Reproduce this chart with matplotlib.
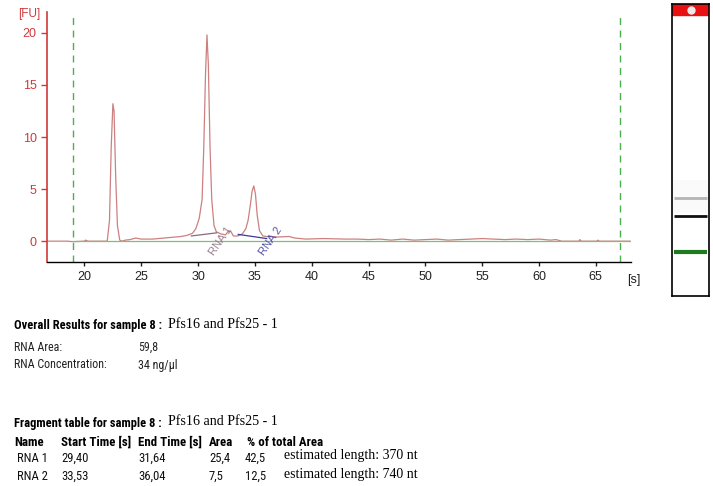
import numpy as np
import matplotlib
matplotlib.use("Agg")
import matplotlib.pyplot as plt
from matplotlib import font_manager

# electropherogram trace (time [s], fluorescence [FU])
trace_t = [16.7, 18.5, 19.0, 20.0, 20.1, 20.3, 21.5, 22.0, 22.2, 22.35, 22.5, 22.6,
           22.75, 22.9, 23.1, 23.3, 23.6, 24.0, 24.5, 25.0, 26.0, 27.0, 27.5, 28.0,
           28.5, 29.0, 29.5, 29.8, 30.1, 30.35, 30.5, 30.65, 30.78, 30.9, 31.05, 31.2,
           31.4, 31.6, 31.8, 32.0, 32.4, 32.7, 32.9, 33.1, 33.5, 33.9, 34.2, 34.4,
           34.6, 34.75, 34.9, 35.05, 35.2, 35.4, 35.7, 36.0, 37.0, 38.0, 38.5, 39.5,
           41.0, 43.0, 44.0, 45.0, 46.0, 47.0, 48.0, 49.0, 50.0, 51.0, 52.0, 53.0,
           54.0, 55.0, 56.0, 57.0, 58.0, 59.0, 60.0, 61.0, 61.5, 62.0, 63.5, 63.6,
           63.7, 65.1, 65.2, 65.3, 68.0]
trace_fu = [0.0, 0.0, -0.05, 0.0, 0.1, 0.0, 0.0, 0.0, 2.0, 9.0, 13.2, 12.5,
            6.0, 1.5, 0.1, 0.0, 0.1, 0.15, 0.3, 0.2, 0.2, 0.3, 0.35, 0.4,
            0.45, 0.55, 0.75, 1.2, 2.2, 4.0, 9.0, 16.0, 19.8, 17.0, 9.0, 4.0,
            1.5, 0.9, 0.8, 0.7, 0.6, 1.0, 0.9, 0.5, 0.5, 0.7, 1.2, 2.0,
            3.5, 4.8, 5.3, 4.5, 2.5, 1.0, 0.5, 0.45, 0.4, 0.45, 0.3, 0.2,
            0.25, 0.2, 0.2, 0.15, 0.2, 0.1, 0.2, 0.1, 0.15, 0.2, 0.1, 0.15,
            0.2, 0.25, 0.2, 0.15, 0.2, 0.15, 0.2, 0.1, 0.15, 0.0, 0.0, 0.15,
            0.0, 0.0, 0.1, 0.0, 0.0]

# fragments
frag_names = ["RNA 1", "RNA 2"]
frag_start = [29.40, 33.53]
frag_end = [31.64, 36.04]
frag_base_start = [0.5, 0.65]
frag_base_end = [0.8, 0.25]
frag_area = ["25,4", "7,5"]
frag_pct = ["42,5", "12,5"]
frag_len = [370, 740]
sample_name = "Pfs16 and Pfs25 - 1"
rna_area = "59,8"
rna_conc = "34 ng/\u00b5l"

# gel lane bands (time [s], colour, width)
band_t = [22.5, 30.8, 34.9]
band_col = ["#1e7a1e", "#101010", "#b4b4b4"]
band_lw = [3.0, 2.0, 2.0]

W, H = 713, 486
fig = plt.figure(figsize=(W / 100, H / 100), dpi=100)
red = "#d03a3a"
tick_font = ["Liberation Sans", "DejaVu Sans"]

ax = fig.add_axes([47 / W, 1 - 262 / H, 584 / W, 250 / H])
ax.plot(trace_t, trace_fu, color="#cc8080", lw=0.9)
ax.plot([19.0, 68.1], [0, 0], color="#7cbf7c", lw=0.9)
ax.axvline(19.0, color="#4caf50", ls=(0, (5, 4)), lw=1.0)
ax.axvline(67.1, color="#4caf50", ls=(0, (5, 4)), lw=1.0)
cols = ["#8a6a7a", "#3a3a9a"]
for i in range(2):
    ax.plot([frag_start[i], frag_end[i]], [frag_base_start[i], frag_base_end[i]],
            color=cols[i], lw=0.9)
    ax.text(frag_end[i] - 0.85, -1.5, frag_names[i], rotation=55, color=cols[i],
            fontsize=8, alpha=0.85, ha="left", va="bottom", family=tick_font)

ax.set_xlim(16.7, 68.1)
ax.set_ylim(-2.0, 22.0)
ax.set_xticks(np.arange(20, 70, 5))
ax.set_yticks([0, 5, 10, 15, 20])
ax.spines["top"].set_visible(False)
ax.spines["right"].set_visible(False)
ax.spines["left"].set_color(red)
ax.spines["left"].set_linewidth(1.2)
ax.spines["bottom"].set_linewidth(1.0)
ax.tick_params(axis="y", colors=red, labelsize=9, length=4, width=1)
ax.tick_params(axis="x", colors="#222222", labelsize=9, length=3, width=1)
for lab in ax.get_xticklabels() + ax.get_yticklabels():
    lab.set_family(tick_font)
ax.text(-0.012, 0.99, "[FU]", color=red, fontsize=8.5, transform=ax.transAxes,
        ha="right", va="center", family=tick_font)
ax.text(0.993, -0.072, "[s]", color="#222222", fontsize=9, transform=ax.transAxes,
        ha="left", va="center", family=tick_font)

# gel lane
gax = fig.add_axes([672 / W, 1 - 296 / H, 37 / W, 292 / H])
gax.set_xlim(0, 1)
gax.set_ylim(12.4, 79.5)
gax.set_xticks([])
gax.set_yticks([])
for s in gax.spines.values():
    s.set_color("black")
    s.set_linewidth(1.2)
gax.axhspan(77.0, 79.5, color="#e81010")
gax.plot(0.5, 78.2, "o", color="#f0e8e8", ms=5)
gax.axhspan(31.5, 39.0, color="#fafafa", lw=0)
for t, c, w in zip(band_t, band_col, band_lw):
    gax.plot([0.05, 0.95], [t, t], color=c, lw=w, solid_capstyle="butt")

# fonts: prefer a narrow sans if one is installed
names = {f.name for f in font_manager.fontManager.ttflist}
narrow = [n for n in ["Liberation Sans Narrow", "Roboto Condensed", "Noto Sans Condensed",
                      "DejaVu Sans Condensed", "Open Sans Condensed"] if n in names]
sans = narrow + ["Liberation Sans", "DejaVu Sans"]
serif = ["Liberation Serif", "DejaVu Serif"]

renderer = fig.canvas.get_renderer()


def put(x, y, s, **kw):
    return fig.text(x / W, 1 - y / H, s, va="center", ha="left", **kw)


def fit(t, width, grow=1.0):
    # scale font so the text spans about the width seen in the report
    w = t.get_window_extent(renderer).width
    size = t.get_fontsize() * width / w * grow
    t.set_fontsize(size)
    return size


def right_end(t):
    return t.get_window_extent(renderer).x1


sm = dict(family=sans, color="#222222")
t = put(14, 325, "Overall Results for sample 8 :", family=sans, fontsize=10, weight="bold")
bold_size = fit(t, 123, 1.2)
t_s = put(right_end(t) + 6, 324, sample_name, family=serif, fontsize=12)
serif_size = fit(t_s, 98, 1.12)
t = put(14, 347, "RNA Area:", fontsize=8.5, **sm)
t2 = put(14, 365, "RNA Concentration:", fontsize=8.5, **sm)
small_size = fit(t2, 71, 1.3)
t.set_fontsize(small_size)
put(138, 347, rna_area, fontsize=small_size, **sm)
put(138, 365, rna_conc, fontsize=small_size, **sm)

t = put(14, 423, "Fragment table for sample 8 :", family=sans, fontsize=bold_size, weight="bold")
put(right_end(t) + 6, 421, sample_name, family=serif, fontsize=serif_size)

heads = ["Name", "Start Time [s]", "End Time [s]", "Area", "% of total Area"]
head_x = [14, 61, 138, 209, 247]
ht = [put(x, 442, h, family=sans, fontsize=9, weight="bold") for h, x in zip(heads, head_x)]
head_size = fit(ht[1], 56, 1.25)
for h in ht:
    h.set_fontsize(head_size)

for i in range(2):
    y = 458 + i * 18
    cells = [frag_names[i], ("%.2f" % frag_start[i]).replace(".", ","),
             ("%.2f" % frag_end[i]).replace(".", ","), frag_area[i], frag_pct[i]]
    cx = [17, 61, 138, 209, 245]
    for c, x in zip(cells, cx):
        put(x, y, c, family=sans, fontsize=small_size * 1.05, color="#111111")
    e = put(284, y - 2, "estimated length: %d nt" % frag_len[i], family=serif, fontsize=11)
    fit(e, 123, 1.08)

fig.savefig("out.png", dpi=100)
